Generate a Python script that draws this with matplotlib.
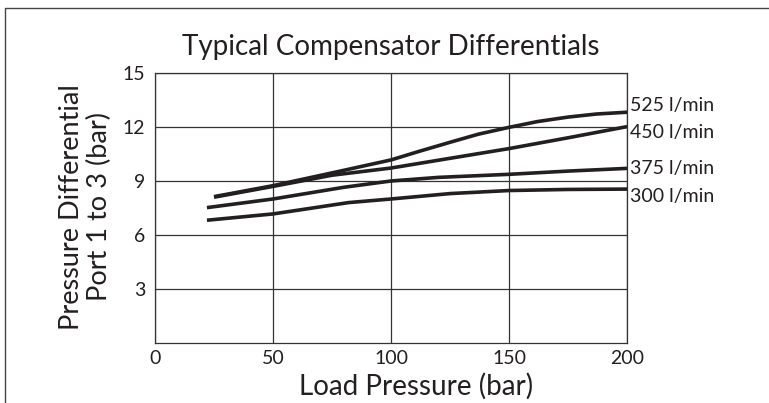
import matplotlib
matplotlib.use("Agg")
import matplotlib.pyplot as plt
from matplotlib.lines import Line2D

# Values
x_525 = [25, 50, 75, 100, 112, 125, 137, 150, 162, 175, 187, 200]
y_525 = [8.13, 8.74, 9.45, 10.17, 10.65, 11.15, 11.6, 11.98, 12.3, 12.55, 12.72, 12.82]

x_450 = [25, 50, 75, 100, 125, 150, 175, 200]
y_450 = [8.1, 8.7, 9.32, 9.72, 10.26, 10.8, 11.4, 12.02]

x_375 = [22, 50, 80, 100, 120, 150, 175, 200]
y_375 = [7.52, 8.0, 8.65, 9.0, 9.2, 9.37, 9.55, 9.7]

x_300 = [22, 50, 82, 100, 125, 150, 175, 200]
y_300 = [6.82, 7.17, 7.8, 8.0, 8.3, 8.47, 8.53, 8.55]

series_labels = ["525 l/min", "450 l/min", "375 l/min", "300 l/min"]
x_ticks = [0, 50, 100, 150, 200]
y_ticks = [3, 6, 9, 12, 15]

plt.rcParams['font.family'] = ['Lato', 'DejaVu Sans']
ink = '#231f20'

fig = plt.figure(figsize=(7.69, 4.03), dpi=100)
ax = fig.add_axes([0.2016, 0.1489, 0.6138, 0.670])

series = [(x_525, y_525), (x_450, y_450), (x_375, y_375), (x_300, y_300)]
# label offsets (points) from each curve's end
offsets = [5.0, -4.5, 0.0, -5.0]
for (xs, ys), lab, off in zip(series, series_labels, offsets):
    ax.plot(xs, ys, color=ink, lw=2.6, solid_capstyle='butt',
            solid_joinstyle='round', zorder=3)
    ax.annotate(lab, xy=(xs[-1], ys[-1]), xytext=(2, off),
                textcoords='offset points', ha='left', va='center',
                fontsize=14, color=ink, annotation_clip=False)

ax.set_xlim(0, 200)
ax.set_ylim(0, 15)
ax.set_xticks(x_ticks)
ax.set_yticks(y_ticks)
ax.grid(True, color='#333333', lw=0.9)
ax.tick_params(length=0, labelsize=14, colors=ink, pad=5)
ax.tick_params(axis='y', pad=7)
for s in ax.spines.values():
    s.set_color('#333333')
    s.set_linewidth(0.9)

ax.set_title("Typical Compensator Differentials", fontsize=20, color=ink, pad=13)
ax.set_xlabel("Load Pressure (bar)", fontsize=20, color=ink)
ax.xaxis.set_label_coords(0.553, -0.11)
ax.set_ylabel("Pressure Differential\nPort 1 to 3 (bar)", fontsize=19.5,
              color=ink, linespacing=1.15)
ax.yaxis.set_label_coords(-0.091, 0.504)

# frame pieces at the left and top of the figure
fig.add_artist(Line2D([0.006, 0.006, 1.0], [0.0, 0.98, 0.98],
                      transform=fig.transFigure, color='#444444', lw=1.0))

fig.savefig("out.png", dpi=100)
